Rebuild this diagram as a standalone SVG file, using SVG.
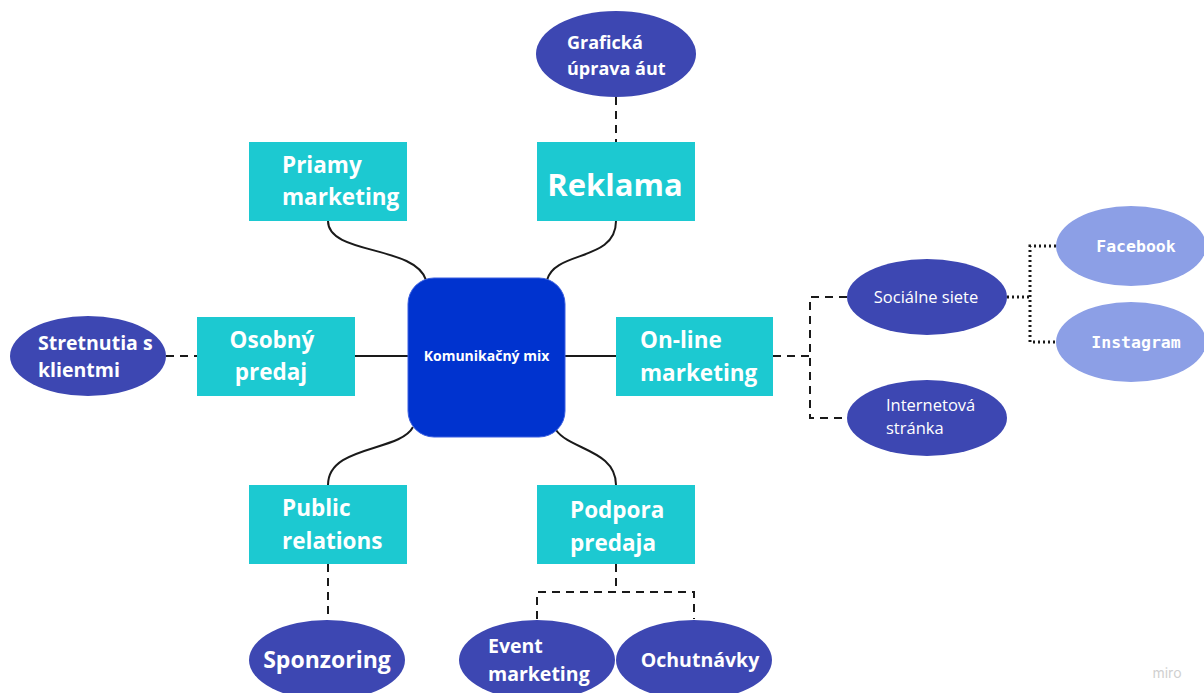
<svg xmlns="http://www.w3.org/2000/svg" width="1204" height="693" viewBox="0 0 1204 693">
  <style>
    .box { fill: #1cc9d1; }
    .ell { fill: #3d47b2; }
    .ell-light { fill: #8c9fe6; }
    .center { fill: #0033cf; stroke: #3a5fe0; stroke-width: 1; }
    .t-box { font-family: "Open Sans", "Noto Sans", sans-serif; font-weight: 700; font-size: 22.5px; fill: #ffffff; }
    .t-big { font-family: "Open Sans", "Noto Sans", sans-serif; font-weight: 700; font-size: 31px; fill: #ffffff; }
    .t-mid { font-family: "Open Sans", "Noto Sans", sans-serif; font-weight: 700; font-size: 14px; fill: #ffffff; }
    .t-ell { font-family: "Open Sans", "Noto Sans", sans-serif; font-weight: 700; font-size: 19.5px; fill: #ffffff; }
    .t-ell-s { font-family: "Open Sans", "Noto Sans", sans-serif; font-weight: 700; font-size: 18px; fill: #ffffff; }
    .t-ell-l { font-family: "Open Sans", "Noto Sans", sans-serif; font-weight: 700; font-size: 23px; fill: #ffffff; }
    .t-reg { font-family: "Open Sans", "Noto Sans", sans-serif; font-weight: 400; font-size: 16.5px; fill: #ffffff; }
    .t-mono { font-family: "DejaVu Sans Mono", "Liberation Mono", monospace; font-weight: 700; font-size: 16.5px; fill: #ffffff; }
    .solid { fill: none; stroke: #1a1a1a; stroke-width: 2; }
    .dash { fill: none; stroke: #1a1a1a; stroke-width: 2; stroke-dasharray: 8 6; }
    .dot { fill: none; stroke: #1a1a1a; stroke-width: 3; stroke-dasharray: 2 3; }
  </style>
  <rect width="1204" height="693" fill="#ffffff"/>

  <g id="connectors">
    <!-- solid curves from the centre -->
    <path class="solid" d="M328 221 C328 255, 415 245, 426 280"/>
    <path class="solid" d="M616 221 C616 262, 555 250, 547 280"/>
    <path class="solid" d="M328 485 C328 445, 400 452, 413 427"/>
    <path class="solid" d="M616 485 C616 450, 570 450, 556 430"/>
    <line class="solid" x1="355" y1="356" x2="409" y2="356"/>
    <line class="solid" x1="564" y1="356" x2="616" y2="356"/>
    <!-- dashed links -->
    <line class="dash" x1="616" y1="97" x2="616" y2="142"/>
    <line class="dash" x1="166" y1="356" x2="197" y2="356"/>
    <line class="dash" x1="328" y1="564" x2="328" y2="620"/>
    <path class="dash" d="M616 564 V592 M537 619 V592 H694 V619"/>
    <path class="dash" d="M773 356 H810 M847 297 H810 V418 H847"/>
    <!-- dotted links -->
    <path class="dot" d="M1007 297 H1030 M1056 246 H1030 V342 H1056"/>
  </g>

  <g id="komunikacny-mix">
    <rect class="center" x="408" y="278" width="157" height="159" rx="26"/>
    <text class="t-mid" x="486.5" y="361" text-anchor="middle">Komunikačný mix</text>
  </g>

  <g id="priamy-marketing">
    <rect class="box" x="249" y="142" width="158" height="79"/>
    <text class="t-box" x="282" y="173">Priamy</text>
    <text class="t-box" x="282" y="205">marketing</text>
  </g>

  <g id="reklama">
    <rect class="box" x="537" y="142" width="158" height="79"/>
    <text class="t-big" x="615" y="196" text-anchor="middle">Reklama</text>
  </g>

  <g id="osobny-predaj">
    <rect class="box" x="197" y="317" width="158" height="79"/>
    <text class="t-box" x="272" y="348" text-anchor="middle">Osobný</text>
    <text class="t-box" x="271" y="380" text-anchor="middle">predaj</text>
  </g>

  <g id="online-marketing">
    <rect class="box" x="616" y="317" width="157" height="79"/>
    <text class="t-box" x="640" y="348">On-line</text>
    <text class="t-box" x="640" y="381">marketing</text>
  </g>

  <g id="public-relations">
    <rect class="box" x="249" y="485" width="158" height="79"/>
    <text class="t-box" x="282" y="516">Public</text>
    <text class="t-box" x="282" y="549">relations</text>
  </g>

  <g id="podpora-predaja">
    <rect class="box" x="537" y="485" width="158" height="79"/>
    <text class="t-box" x="570" y="518">Podpora</text>
    <text class="t-box" x="570" y="551">predaja</text>
  </g>

  <g id="graficka-uprava">
    <ellipse class="ell" cx="616" cy="54" rx="80" ry="43"/>
    <text class="t-ell-s" x="567" y="49">Grafická</text>
    <text class="t-ell-s" x="567" y="75">úprava áut</text>
  </g>

  <g id="stretnutia">
    <ellipse class="ell" cx="88" cy="356" rx="78" ry="40"/>
    <text class="t-ell" x="38" y="350">Stretnutia s</text>
    <text class="t-ell" x="38" y="377">klientmi</text>
  </g>

  <g id="sponzoring">
    <ellipse class="ell" cx="327" cy="660" rx="78" ry="40"/>
    <text class="t-ell-l" x="327" y="668" text-anchor="middle">Sponzoring</text>
  </g>

  <g id="event-marketing">
    <ellipse class="ell" cx="537" cy="660" rx="78" ry="40"/>
    <text class="t-ell" x="488" y="653">Event</text>
    <text class="t-ell" x="488" y="681">marketing</text>
  </g>

  <g id="ochutnavky">
    <ellipse class="ell" cx="694" cy="660" rx="78" ry="40"/>
    <text class="t-ell" x="700" y="667" text-anchor="middle">Ochutnávky</text>
  </g>

  <g id="socialne-siete">
    <ellipse class="ell" cx="927" cy="297" rx="80" ry="38"/>
    <text class="t-reg" x="926" y="303" text-anchor="middle">Sociálne siete</text>
  </g>

  <g id="internetova-stranka">
    <ellipse class="ell" cx="927" cy="418" rx="80" ry="38"/>
    <text class="t-reg" x="886" y="411">Internetová</text>
    <text class="t-reg" x="886" y="434">stránka</text>
  </g>

  <g id="facebook">
    <ellipse class="ell-light" cx="1131" cy="246" rx="75" ry="40"/>
    <text class="t-mono" x="1136" y="252" text-anchor="middle">Facebook</text>
  </g>

  <g id="instagram">
    <ellipse class="ell-light" cx="1131" cy="342" rx="75" ry="40"/>
    <text class="t-mono" x="1136" y="348" text-anchor="middle">Instagram</text>
  </g>

  <text x="1167" y="678" text-anchor="middle" font-family="Inter, 'Noto Sans', sans-serif" font-size="14" fill="#d0d0d0">miro</text>
</svg>
